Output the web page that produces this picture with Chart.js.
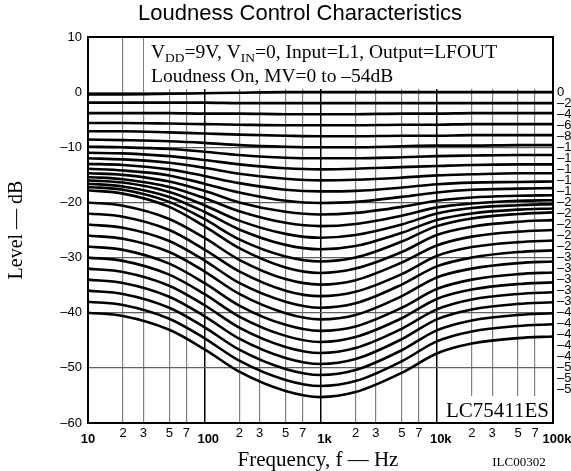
<!DOCTYPE html>
<html>
<head>
<meta charset="utf-8">
<script src="https://cdn.jsdelivr.net/npm/chart.js@4.4.1/dist/chart.umd.min.js"></script>
<style>
  html, body { margin: 0; padding: 0; background: #fff; }
  #wrap { width: 571px; height: 471px; }
</style>
</head>
<body>
<div id="wrap"><canvas id="grafico" width="571" height="471"></canvas></div>
<script>
// frequencias (Hz) onde cada curva foi lida
const freqs = [10, 20, 50, 100, 200, 500, 1000, 2000, 5000, 10000, 20000, 50000, 100000];

// niveis (dB) de cada curva, MV = 0 ate -54 dB em passos de 2 dB
const mv0  = [-0.4, -0.4, -0.3, -0.2, -0.1, 0, 0, 0, 0, 0, 0, 0, 0];
const mv2  = [-1.9, -1.9, -1.9, -1.9, -2, -2, -2, -2, -2, -2, -2, -2, -2];
const mv4  = [-3.8, -3.8, -3.8, -3.9, -3.9, -4, -4, -4, -3.9, -3.9, -3.8, -3.8, -3.8];
const mv6  = [-5.6, -5.6, -5.7, -5.8, -5.9, -6, -6, -6, -5.9, -5.9, -5.8, -5.8, -5.8];
const mv8  = [-7.1, -7.1, -7.3, -7.5, -7.7, -7.9, -8, -8, -7.9, -7.9, -7.8, -7.8, -7.8];
const mv10 = [-8.6, -8.7, -8.9, -9.2, -9.6, -9.9, -10, -10, -9.8, -9.7, -9.7, -9.6, -9.6];
const mv12 = [-9.9, -10, -10.3, -10.8, -11.4, -11.9, -12, -12, -11.8, -11.6, -11.5, -11.4, -11.4];
const mv14 = [-11, -11.1, -11.6, -12.3, -13.1, -13.8, -14, -13.9, -13.6, -13.4, -13.2, -13.1, -13.1];
const mv16 = [-12, -12.2, -12.8, -13.7, -14.8, -15.7, -16, -15.9, -15.5, -15.1, -14.9, -14.7, -14.7];
const mv18 = [-13, -13.2, -14, -15.2, -16.5, -17.7, -18, -17.9, -17.3, -16.7, -16.4, -16.3, -16.2];
const mv20 = [-13.9, -14.2, -15.1, -16.6, -18.2, -19.7, -20.1, -19.9, -19, -18.2, -17.7, -17.5, -17.4];
const mv22 = [-14.7, -15, -16.2, -17.9, -20, -21.7, -22.2, -21.9, -20.8, -19.7, -19.1, -18.8, -18.7];
const mv24 = [-15.4, -15.8, -17.2, -19.2, -21.6, -23.7, -24.3, -23.9, -22.4, -20.9, -20.2, -19.7, -19.6];
const mv26 = [-16, -16.4, -18.1, -20.5, -23.3, -25.7, -26.4, -25.9, -24, -22, -21, -20.5, -20.3];
const mv28 = [-16.6, -17.1, -19, -21.7, -24.9, -27.7, -28.5, -27.9, -25.5, -23.2, -22, -21.3, -21.1];
const mv30 = [-17.2, -17.7, -19.9, -23, -26.7, -29.8, -30.7, -30, -27.1, -24.3, -22.9, -22.1, -21.8];
const mv32 = [-17.8, -18.4, -20.8, -24.3, -28.3, -31.8, -32.8, -32, -29, -25.9, -24.4, -23.5, -23.2];
const mv34 = [-20, -20.6, -23, -26.4, -30.4, -33.9, -34.9, -34.1, -30.9, -27.8, -26.2, -25.3, -25];
const mv36 = [-22, -22.6, -25, -28.5, -32.5, -36, -37, -36.2, -33, -29.7, -28.1, -27.2, -26.9];
const mv38 = [-24, -24.6, -27, -30.5, -34.6, -38, -39.1, -38.3, -34.9, -31.6, -30, -29, -28.7];
const mv40 = [-26, -26.6, -29, -32.5, -36.6, -40.1, -41.2, -40.4, -37, -33.6, -32, -31, -30.7];
const mv42 = [-28, -28.6, -31.1, -34.6, -38.7, -42.2, -43.3, -42.5, -39.1, -35.7, -34, -33, -32.7];
const mv44 = [-30, -30.6, -33.1, -36.6, -40.7, -44.2, -45.3, -44.4, -41, -37.5, -35.8, -34.8, -34.5];
const mv46 = [-32, -32.6, -35.1, -38.6, -42.7, -46.2, -47.3, -46.4, -42.9, -39.4, -37.6, -36.6, -36.3];
const mv48 = [-34, -34.6, -37.1, -40.6, -44.7, -48.2, -49.3, -48.4, -44.8, -41.2, -39.4, -38.4, -38.1];
const mv50 = [-36, -36.6, -39.1, -42.6, -46.7, -50.2, -51.3, -50.4, -46.8, -43.2, -41.4, -40.4, -40.1];
const mv52 = [-38, -38.6, -41.1, -44.6, -48.7, -52.2, -53.3, -52.4, -48.8, -45.2, -43.4, -42.4, -42.1];
const mv54 = [-40, -40.6, -43.1, -46.6, -50.7, -54.2, -55.3, -54.4, -50.9, -47.4, -45.6, -44.6, -44.3];

const curvas = [mv0, mv2, mv4, mv6, mv8, mv10, mv12, mv14, mv16, mv18, mv20, mv22, mv24, mv26,
                mv28, mv30, mv32, mv34, mv36, mv38, mv40, mv42, mv44, mv46, mv48, mv50, mv52, mv54];

// valor de MV de cada curva (rotulos da direita)
const mvValores = [0, -2, -4, -6, -8, -10, -12, -14, -16, -18, -20, -22, -24, -26,
                   -28, -30, -32, -34, -36, -38, -40, -42, -44, -46, -48, -50, -52, -54];

// eixo x: linhas de grade e rotulos
const xValores = [10, 20, 30, 50, 70, 100, 200, 300, 500, 700, 1000, 2000, 3000, 5000, 7000,
                  10000, 20000, 30000, 50000, 70000, 100000];
const xTextos = ['10', '2', '3', '5', '7', '100', '2', '3', '5', '7', '1k', '2', '3', '5', '7',
                 '10k', '2', '3', '5', '7', '100k'];

// eixo y
const yValores = [10, 0, -10, -20, -30, -40, -50, -60];
const yTextos = ['10', '0', '\u201310', '\u201320', '\u201330', '\u201340', '\u201350', '\u201360'];

const SANS = '"Liberation Sans", Arial, sans-serif';
const SERIF = '"Liberation Serif", "Times New Roman", serif';

function ehDecada(v) {
    var l = Math.log10(v);
    return Math.abs(l - Math.round(l)) < 1e-6;
}

// monta os datasets a partir das listas
var datasets = curvas.map(function (c, i) {
    return {
        label: 'MV ' + mvValores[i],
        data: c.map(function (v, j) { return { x: freqs[j], y: v }; }),
        borderColor: '#000',
        borderWidth: 2.6,
        pointRadius: 0,
        fill: false,
        cubicInterpolationMode: 'monotone'
    };
});

// caixas brancas, textos e moldura
var textos = {
    id: 'textos',
    beforeDatasetsDraw: function (chart) {
        var ctx = chart.ctx;
        var a = chart.chartArea;
        ctx.save();
        ctx.fillStyle = '#fff';
        ctx.fillRect(144, a.top + 1, a.right - 144, 51);
        ctx.fillRect(443, 396, a.right - 443, a.bottom - 396);
        ctx.restore();
    },
    afterDraw: function (chart) {
        var ctx = chart.ctx;
        var a = chart.chartArea;
        var xs = chart.scales.x;
        var ys = chart.scales.y;
        ctx.save();

        // moldura
        ctx.strokeStyle = '#000';
        ctx.lineWidth = 2;
        ctx.strokeRect(a.left, a.top, a.right - a.left, a.bottom - a.top);

        // titulo
        ctx.fillStyle = '#000';
        ctx.textAlign = 'center';
        ctx.textBaseline = 'middle';
        ctx.font = '22px ' + SANS;
        ctx.fillText('Loudness Control Characteristics', 300, 14);

        // rotulos do eixo y
        ctx.font = '13px ' + SANS;
        ctx.textAlign = 'right';
        yValores.forEach(function (v, i) {
            ctx.fillText(yTextos[i], 82, ys.getPixelForValue(v));
        });

        // rotulos do eixo x (decadas um pouco mais baixas)
        ctx.textAlign = 'center';
        xValores.forEach(function (v, i) {
            var px = xs.getPixelForValue(v);
            if (ehDecada(v)) {
                ctx.font = 'bold 13px ' + SANS;
                var dx = (v === 10) ? 0 : 4;
                ctx.fillText(xTextos[i], px + dx, 439);
            } else {
                ctx.font = '13px ' + SANS;
                ctx.fillText(xTextos[i], px, 433);
            }
        });

        // rotulos de MV na direita
        ctx.textAlign = 'left';
        ctx.font = '13px ' + SANS;
        mvValores.forEach(function (v) {
            var t = v === 0 ? '0' : '\u2013' + (-v);
            ctx.fillText(t, a.right + 4, ys.getPixelForValue(v));
        });

        // anotacao
        ctx.textBaseline = 'alphabetic';
        ctx.textAlign = 'left';
        var x = 151, y = 58;
        var partes = [['V', 19.5, 0], ['DD', 13.5, 4], ['=9V, V', 19.5, 0], ['IN', 13.5, 4],
                      ['=0, Input=L1, Output=LFOUT', 19.5, 0]];
        partes.forEach(function (p) {
            ctx.font = p[1] + 'px ' + SERIF;
            ctx.fillText(p[0], x, y + p[2]);
            x += ctx.measureText(p[0]).width;
        });
        ctx.font = '19.5px ' + SERIF;
        ctx.fillText('Loudness On, MV=0 to \u201354dB', 151, 82);

        ctx.font = '21px ' + SERIF;
        ctx.textAlign = 'right';
        ctx.fillText('LC75411ES', 549, 417);

        // titulos dos eixos
        ctx.textAlign = 'center';
        ctx.font = '21px ' + SERIF;
        ctx.fillText('Frequency, f \u2014 Hz', 318, 466);
        ctx.font = '13px ' + SERIF;
        ctx.fillText('ILC00302', 519, 466);

        ctx.translate(22, 230);
        ctx.rotate(-Math.PI / 2);
        ctx.font = '20px ' + SERIF;
        ctx.fillText('Level \u2014 dB', 0, 0);

        ctx.restore();
    }
};

var ctx = document.getElementById('grafico').getContext('2d');
var myChart = new Chart(ctx, {
    type: 'line',
    data: { datasets: datasets },
    options: {
        responsive: false,
        animation: false,
        devicePixelRatio: 1,
        layout: { padding: { left: 88, right: 18, top: 37, bottom: 48 } },
        plugins: { legend: { display: false }, tooltip: { enabled: false } },
        scales: {
            x: {
                type: 'logarithmic',
                min: 10,
                max: 100000,
                afterBuildTicks: function (scale) {
                    scale.ticks = xValores.map(function (v) { return { value: v }; });
                },
                ticks: { display: false },
                grid: {
                    drawTicks: false,
                    color: function (c) {
                        return ehDecada(c.tick.value) ? '#000' : '#808080';
                    },
                    lineWidth: function (c) {
                        return ehDecada(c.tick.value) ? 1.5 : 1.2;
                    }
                },
                border: { display: false }
            },
            y: {
                type: 'linear',
                min: -60,
                max: 10,
                afterBuildTicks: function (scale) {
                    scale.ticks = yValores.map(function (v) { return { value: v }; });
                },
                ticks: { display: false },
                grid: { drawTicks: false, color: '#606060', lineWidth: 1.2 },
                border: { display: false }
            }
        }
    },
    plugins: [textos]
});
</script>
</body>
</html>
